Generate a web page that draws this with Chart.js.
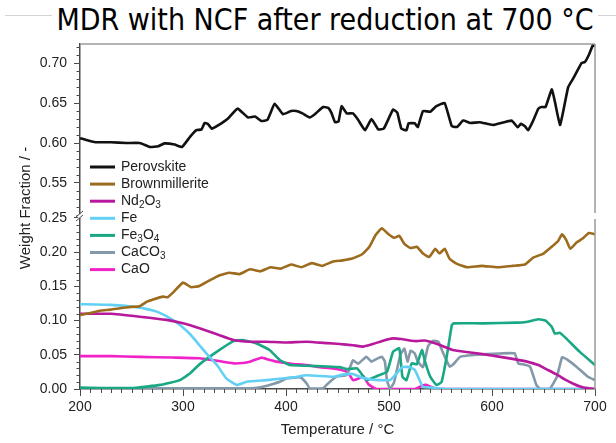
<!DOCTYPE html>
<html>
<head>
<meta charset="utf-8">
<script src="https://cdn.jsdelivr.net/npm/chart.js@4.4.1/dist/chart.umd.min.js"></script>
<style>
  html, body { margin: 0; padding: 0; background: #fff; }
  #wrap { position: relative; width: 616px; height: 443px; overflow: hidden; }
  #rule { position: absolute; left: 5px; right: 0; top: 15px; border-top: 1px solid #d4d4d4; }
  #title { position: absolute; left: 0; width: 650px; top: 2px; margin: 0; text-align: center;
           font: normal 30px "DejaVu Sans Condensed", "DejaVu Sans", sans-serif; color: #000; }
  #title span { background: #fff; padding: 0 4px; }
  canvas { position: absolute; left: 0; top: 0; }
</style>
</head>
<body>
<div id="wrap">
  <div id="rule"></div>
  <canvas id="c" width="616" height="443"></canvas>
  <h1 id="title"><span>MDR with NCF after reduction at 700 °C</span></h1>
</div>
<script>
// Phase weight fractions vs. temperature, as [°C, fraction] pairs
const perovskite = [
  [200,0.606],[208,0.603],[215,0.601],[230,0.601],[245,0.600],[258,0.600],[268,0.595],[276,0.596],
  [282,0.5995],[292,0.598],[299,0.595],[307,0.608],[313,0.616],[318,0.617],[321,0.625],[324,0.624],
  [328,0.618],[334,0.622],[344,0.631],[353,0.643],[363,0.632],[370,0.633],[376,0.6275],[382,0.629],
  [389,0.649],[397,0.636],[405,0.640],[410,0.640],[416,0.637],[423,0.632],[428,0.636],[436,0.645],
  [441,0.644],[444,0.638],[447.6,0.626],[451,0.627],[454,0.646],[459,0.637],[465,0.637],[470,0.629],
  [476.7,0.616],[483,0.630],[489.6,0.617],[495,0.618],[504,0.642],[508,0.638],[512,0.618],[517,0.616],
  [519,0.6246],[525,0.6246],[528,0.620],[533,0.640],[540,0.639],[546,0.646],[554,0.650],[561,0.621],
  [566,0.620],[572,0.628],[579,0.625],[588,0.626],[601,0.6225],[619,0.628],[625,0.6196],[628,0.624],
  [632,0.621],[635,0.616],[640,0.628],[645,0.643],[648,0.645],[652,0.645],[658,0.667],[661,0.652],
  [666,0.6225],[670,0.645],[674,0.670],[679,0.681],[687,0.700],[690,0.701],[694,0.710],[698,0.7225],
  [700,0.721]
];
const brownmillerite = [
  [200,0.108],[210,0.111],[219,0.1145],[230,0.116],[239,0.118],[250,0.120],[258,0.121],[265,0.1277],
  [271,0.131],[281,0.135],[285,0.134],[291,0.142],[300,0.1555],[308,0.1487],[316,0.1506],[325,0.158],
  [335,0.166],[345,0.170],[355,0.168],[365,0.175],[375,0.172],[385,0.178],[395,0.176],[405,0.182],
  [415,0.178],[425,0.184],[435,0.180],[445,0.186],[455,0.188],[465,0.191],[474,0.197],[481,0.208],
  [487,0.225],[493,0.235],[499,0.227],[505,0.221],[510,0.224],[515,0.212],[521,0.206],[527,0.208],
  [533,0.198],[539,0.193],[545,0.205],[549,0.198],[554,0.205],[559,0.190],[566,0.183],[576,0.178],
  [590,0.180],[605,0.178],[620,0.180],[632,0.182],[640,0.192],[650,0.198],[658,0.208],[664,0.216],
  [668,0.226],[672,0.218],[676,0.205],[682,0.214],[688,0.220],[694,0.228],[700,0.226]
];
const nd2o3 = [
  [200,0.110],[230,0.110],[258,0.1057],[284,0.101],[300,0.096],[316,0.0887],[333,0.080],[349,0.0716],
  [365,0.069],[381,0.069],[400,0.068],[420,0.069],[440,0.067],[452,0.0658],[465,0.064],[475,0.062],
  [485,0.066],[495,0.071],[504,0.074],[512,0.073],[520,0.071],[527,0.070],[535,0.071],[540,0.069],
  [550,0.064],[562,0.057],[575,0.054],[591,0.051],[608,0.047],[620,0.044],[634,0.040],[645,0.035],
  [653,0.0288],[663,0.021],[672,0.013],[680,0.007],[688,0.0025],[700,0.0]
];
const fe = [
  [200,0.124],[230,0.123],[258,0.119],[270,0.115],[278,0.111],[288,0.103],[297,0.0936],[307,0.080],
  [316,0.064],[325,0.048],[333,0.035],[342,0.0156],[352,0.006],[362,0.0107],[381,0.013],[407,0.017],
  [420,0.020],[446,0.018],[455,0.021],[465,0.022],[475,0.016],[483,0.014],[491,0.013],[501,0.013],
  [507,0.022],[513,0.032],[520,0.032],[525,0.028],[530,0.012],[533,0.003],[542,0.002],[556,0.0],
  [700,0.0]
];
const fe3o4 = [
  [200,0.002],[252,0.0015],[278,0.006],[297,0.013],[307,0.023],[316,0.036],[333,0.0546],[349,0.070],
  [358,0.0716],[371,0.0668],[384,0.057],[394,0.0424],[404,0.035],[420,0.034],[440,0.033],[452,0.032],
  [459,0.029],[469,0.030],[478,0.013],[484,0.016],[490,0.020],[498,0.025],[504,0.0546],[510,0.0594],
  [513,0.018],[517,0.013],[522,0.0375],[527,0.036],[532,0.057],[535,0.040],[540,0.018],[546,0.006],
  [551,0.010],[556,0.047],[561,0.0936],[563,0.096],[591,0.096],[624,0.097],[633,0.098],[645,0.102],
  [652,0.100],[658,0.091],[661,0.081],[666,0.082],[672,0.074],[685,0.0546],[700,0.035]
];
const caco3 = [
  [200,0.001],[365,0.001],[375,0.0025],[384,0.006],[394,0.0107],[401,0.0156],[414,0.017],[420,0.0083],
  [423,0.001],[436,0.001],[440,0.007],[449,0.018],[459,0.0204],[465,0.042],[470,0.037],[478,0.047],
  [483,0.040],[488,0.044],[493,0.047],[496,0.040],[498,0.013],[501,0.0],[505,0.010],[511,0.050],
  [515,0.059],[518,0.040],[521,0.056],[525,0.052],[528,0.040],[533,0.032],[538,0.063],[543,0.0706],
  [548,0.069],[552,0.0546],[559,0.0326],[563,0.037],[569,0.047],[582,0.0497],[608,0.052],[622,0.052],
  [625.5,0.0375],[630,0.036],[637,0.0326],[643,0.006],[647,0.0],[656,0.0],[663,0.018],[668,0.0463],
  [672,0.044],[682,0.0326],[693,0.018],[700,0.013]
];
const cao = [
  [200,0.048],[230,0.048],[258,0.047],[290,0.046],[316,0.045],[330,0.042],[349,0.0375],[358,0.038],
  [365,0.040],[376,0.0458],[383,0.043],[391,0.040],[405,0.037],[420,0.035],[433,0.032],[446,0.030],
  [459,0.0253],[462,0.020],[465,0.013],[470,0.015],[475,0.019],[478,0.012],[480,0.007],[485,0.002],
  [488,0.0],[525,0.0],[531,0.004],[536,0.006],[541,0.003],[546,0.0006],[555,0.0],[700,0.0]
];

const seriesNames = ['Perovskite', 'Brownmillerite', 'Nd2O3', 'Fe', 'Fe3O4', 'CaCO3', 'CaO'];
const seriesData = [perovskite, brownmillerite, nd2o3, fe, fe3o4, caco3, cao];
const seriesColors = ['#111111', '#9c6b1e', '#b8189c', '#62d0f5', '#19a883', '#8399aa', '#f022c8'];
const seriesAxis = ['yTop', 'y', 'y', 'y', 'y', 'y', 'y'];

const xTicks = [200, 300, 400, 500, 600, 700];
const yTopRange = [0.50875, 0.72375];
const yLowRange = [0, 0.2529];

const AXIS = '#4a4a4a';
const FRAME = '#9a9a9a';
const FONT = '"Liberation Sans", Arial, sans-serif';

// Minor ticks, frame, axis break and the y title
const framePlugin = {
  id: 'frame',
  afterDraw(chart) {
    const { ctx, chartArea: a, scales } = chart;
    const top = scales.yTop, low = scales.y, x = scales.x;
    const brk = top.bottom;
    ctx.save();
    ctx.strokeStyle = AXIS;
    ctx.lineWidth = 1;
    ctx.beginPath();
    for (let t = 200; t <= 700; t += 10) {
      if (t % 100 === 0) continue;
      const px = Math.round(x.getPixelForValue(t)) + 0.5;
      ctx.moveTo(px, a.bottom); ctx.lineTo(px, a.bottom + 4);
    }
    for (let v = 0.51; v < yTopRange[1]; v += 0.01) {
      const vr = Math.round(v * 100) / 100;
      if (Math.round(vr * 100) % 5 === 0) continue;
      const py = Math.round(top.getPixelForValue(vr)) + 0.5;
      ctx.moveTo(a.left, py); ctx.lineTo(a.left - 3.5, py);
    }
    for (let v = 0.01; v < yLowRange[1]; v += 0.01) {
      const vr = Math.round(v * 100) / 100;
      if (Math.round(vr * 100) % 5 === 0) continue;
      const py = Math.round(low.getPixelForValue(vr)) + 0.5;
      ctx.moveTo(a.left, py); ctx.lineTo(a.left - 3.5, py);
    }
    ctx.stroke();

    // top and right frame, with a gap at the break
    ctx.strokeStyle = FRAME;
    ctx.lineWidth = 1.5;
    ctx.beginPath();
    ctx.moveTo(a.left, a.top); ctx.lineTo(a.right, a.top);
    ctx.moveTo(a.right, a.top); ctx.lineTo(a.right, brk - 3);
    ctx.moveTo(a.right, brk + 3); ctx.lineTo(a.right, a.bottom);
    ctx.stroke();

    // break marks on the left axis
    ctx.fillStyle = '#fff';
    ctx.fillRect(a.left - 2, brk - 2, 4, 4);
    ctx.strokeStyle = AXIS;
    ctx.lineWidth = 1;
    ctx.beginPath();
    ctx.moveTo(a.left - 4, brk + 1); ctx.lineTo(a.left + 3, brk - 5);
    ctx.moveTo(a.left - 4, brk + 5); ctx.lineTo(a.left + 3, brk - 1);
    ctx.stroke();

    // y axis title
    ctx.fillStyle = '#222';
    ctx.font = '15px ' + FONT;
    ctx.textAlign = 'center';
    ctx.textBaseline = 'middle';
    ctx.translate(26, 208);
    ctx.rotate(-Math.PI / 2);
    ctx.fillText('Weight Fraction / -', 0, 0);
    ctx.restore();
  }
};

// Legend inside the plot, digits in formulas set as subscripts
const legendPlugin = {
  id: 'innerLegend',
  afterDraw(chart) {
    const { ctx } = chart;
    ctx.save();
    chart.data.datasets.forEach((ds, i) => {
      const y = 167 + i * 17.1;
      ctx.strokeStyle = ds.borderColor;
      ctx.lineWidth = 3;
      ctx.beginPath();
      ctx.moveTo(90, y); ctx.lineTo(115, y);
      ctx.stroke();
      let x = 121;
      ctx.fillStyle = '#222';
      ctx.textBaseline = 'middle';
      ctx.textAlign = 'left';
      for (const ch of ds.label) {
        const sub = /[0-9]/.test(ch);
        ctx.font = (sub ? '10px ' : '14px ') + FONT;
        ctx.fillText(ch, x, sub ? y + 4 : y);
        x += ctx.measureText(ch).width;
      }
    });
    ctx.restore();
  }
};

const tickFont = { family: FONT, size: 14 };
const titleFont = { family: FONT, size: 15 };

new Chart(document.getElementById('c'), {
  type: 'line',
  data: {
    datasets: seriesNames.map((name, i) => ({
      label: name,
      data: seriesData[i].map(([x, y]) => ({ x, y })),
      yAxisID: seriesAxis[i],
      borderColor: seriesColors[i],
      borderWidth: 2.6,
      pointRadius: 0,
      tension: 0.12,
      fill: false
    }))
  },
  options: {
    responsive: false,
    animation: false,
    layout: { padding: { left: 0, right: 21, top: 44, bottom: 0 } },
    plugins: { legend: { display: false }, title: { display: false }, tooltip: { enabled: false } },
    scales: {
      x: {
        type: 'linear', min: xTicks[0], max: xTicks[xTicks.length - 1],
        afterBuildTicks: s => { s.ticks = xTicks.map(v => ({ value: v })); },
        ticks: { font: tickFont, color: '#222', padding: 3, maxRotation: 0 },
        grid: { drawOnChartArea: false, tickLength: 7, tickColor: AXIS },
        border: { color: AXIS, width: 1.5 },
        title: { display: true, text: 'Temperature / °C', font: titleFont, color: '#222', padding: { top: 4 } },
        afterFit: s => { s.height = 54; }
      },
      yTop: {
        type: 'linear', position: 'left', stack: 'left', stackWeight: 172, weight: 1,
        min: yTopRange[0], max: yTopRange[1],
        ticks: { stepSize: 0.05, includeBounds: false, font: tickFont, color: '#222', padding: 7,
                 callback: v => v.toFixed(2) },
        grid: { drawOnChartArea: false, tickLength: 6, tickColor: AXIS },
        border: { color: AXIS, width: 1.5 },
        afterFit: s => { s.width = 80; }
      },
      y: {
        type: 'linear', position: 'left', stack: 'left', stackWeight: 173, weight: 0,
        min: yLowRange[0], max: yLowRange[1],
        ticks: { stepSize: 0.05, includeBounds: false, font: tickFont, color: '#222', padding: 7,
                 callback: v => v.toFixed(2) },
        grid: { drawOnChartArea: false, tickLength: 6, tickColor: AXIS },
        border: { color: AXIS, width: 1.5 },
        afterFit: s => { s.width = 80; }
      }
    }
  },
  plugins: [framePlugin, legendPlugin]
});
</script>
</body>
</html>
